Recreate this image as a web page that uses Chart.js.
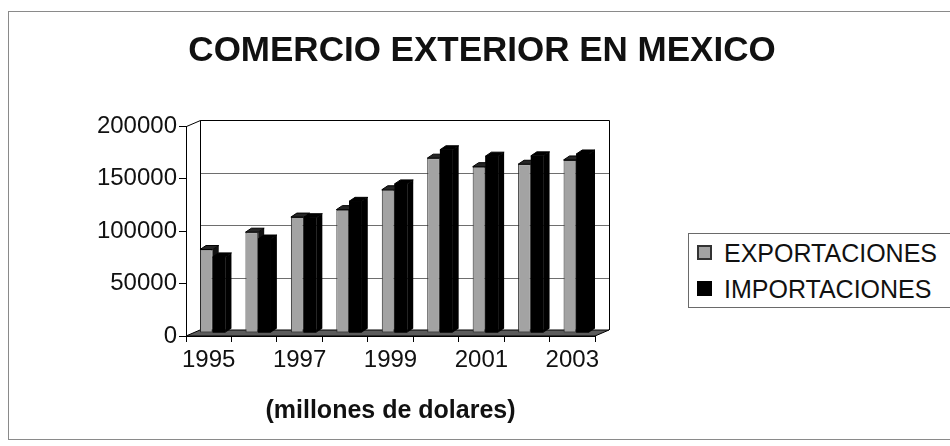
<!DOCTYPE html>
<html>
<head>
<meta charset="utf-8">
<script src="https://cdn.jsdelivr.net/npm/chart.js@4.4.1/dist/chart.umd.min.js"></script>
<style>
  html, body { margin: 0; padding: 0; background: #fff; }
  #wrap { position: relative; width: 950px; height: 446px; overflow: hidden; background: #fff; }
  #frame { position: absolute; left: 8px; top: 11px; width: 960px; height: 429px; border: 1px solid #8a8a8a; box-sizing: border-box; }
  #chartBox { position: absolute; left: 0; top: 0; width: 950px; height: 446px; }
  #title { position: absolute; left: 482px; top: 49px; transform: translate(-50%, -50%); white-space: nowrap;
           font-family: "Liberation Sans", Arial, sans-serif; font-weight: bold; font-size: 35px; line-height: 40px; color: #111; }
  #legend { position: absolute; left: 688px; top: 233px; width: 280px; height: 75px; border: 1px solid #6a6a6a; box-sizing: border-box;
            font-family: "Liberation Sans", Arial, sans-serif; font-size: 25px; color: #111; background: #fff; }
  .row { position: absolute; left: 8px; height: 30px; line-height: 30px; white-space: nowrap; }
  .sw { position: absolute; left: 0; top: 7px; width: 15px; height: 15px; box-sizing: border-box; }
  .lbl { position: absolute; left: 27px; top: 0; }
</style>
</head>
<body>
<div id="wrap">
  <div id="frame"></div>
  <div id="chartBox"><canvas id="c"></canvas></div>
  <div id="title"></div>
  <div id="legend"></div>
</div>
<script>
// ---- data ----
const years = ['1995', '1996', '1997', '1998', '1999', '2000', '2001', '2002', '2003'];
const exportaciones = [79500, 96000, 110400, 117500, 136400, 166500, 158400, 160700, 164800];
const importaciones = [72500, 89500, 109800, 125400, 142000, 174500, 168400, 168700, 170500];
const yTicks = [0, 50000, 100000, 150000, 200000];
const seriesNames = ['EXPORTACIONES', 'IMPORTACIONES'];
const chartTitle = 'COMERCIO EXTERIOR EN MEXICO';
const xTitle = '(millones de dolares)';

// ---- styling ----
const FONT = '"Liberation Sans", Arial, sans-serif';
const GRAY = '#a3a3a3';
const WALL = { dx: 14, dy: -6 };
const BAR_OFF = { dx: 4, dy: -3 };
const BAR_DEPTH = { dx: 6, dy: -4 };

document.getElementById('title').textContent = chartTitle;

// legend (HTML, real text)
const legendEl = document.getElementById('legend');
[[seriesNames[0], GRAY, '2px solid #333'], [seriesNames[1], '#000', '1px solid #000']].forEach((s, i) => {
  const row = document.createElement('div');
  row.className = 'row';
  row.style.top = (4 + i * 36) + 'px';
  const sw = document.createElement('div');
  sw.className = 'sw'; sw.style.background = s[1]; sw.style.border = s[2];
  const lb = document.createElement('div');
  lb.className = 'lbl'; lb.textContent = s[0];
  row.appendChild(sw); row.appendChild(lb);
  legendEl.appendChild(row);
});

function poly(ctx, pts) {
  ctx.beginPath();
  ctx.moveTo(pts[0][0], pts[0][1]);
  for (let i = 1; i < pts.length; i++) ctx.lineTo(pts[i][0], pts[i][1]);
  ctx.closePath();
}

const threeD = {
  id: 'threeD',
  beforeDatasetsDraw(chart) {
    const { ctx, chartArea: a, scales } = chart;
    const y = scales.y;
    const L = a.left + WALL.dx, R = a.right + WALL.dx, T = a.top + WALL.dy, B = a.bottom + WALL.dy;
    ctx.save();
    ctx.strokeStyle = '#6e6e6e';
    ctx.lineWidth = 1;
    yTicks.forEach(v => {
      if (v === 0) return;
      const py = Math.round(y.getPixelForValue(v) + WALL.dy) + 0.5;
      ctx.beginPath(); ctx.moveTo(L, py); ctx.lineTo(R, py); ctx.stroke();
    });
    ctx.strokeStyle = '#000';
    ctx.beginPath();
    ctx.moveTo(L + 0.5, B); ctx.lineTo(L + 0.5, T + 0.5); ctx.lineTo(R + 0.5, T + 0.5); ctx.lineTo(R + 0.5, B);
    ctx.stroke();
    ctx.beginPath(); ctx.moveTo(a.left + 0.5, a.top + 0.5); ctx.lineTo(L + 0.5, T + 0.5); ctx.stroke();
    ctx.fillStyle = '#5c5c5c';
    poly(ctx, [[a.left, a.bottom], [a.right, a.bottom], [R, B], [L, B]]);
    ctx.fill();
    ctx.stroke();
    ctx.restore();
    ctx.save();
    ctx.translate(BAR_OFF.dx, BAR_OFF.dy);
  },
  afterDatasetsDraw(chart) {
    const { ctx } = chart;
    const m0 = chart.getDatasetMeta(0).data, m1 = chart.getDatasetMeta(1).data;
    const faces = (bar, topCol, sideCol) => {
      const p = bar.getProps(['x', 'y', 'width', 'base'], true);
      const l = p.x - p.width / 2, r = p.x + p.width / 2, t = p.y, b = p.base;
      const dx = BAR_DEPTH.dx, dy = BAR_DEPTH.dy;
      ctx.fillStyle = sideCol;
      poly(ctx, [[r, t], [r + dx, t + dy], [r + dx, b + dy], [r, b]]);
      ctx.fill();
      ctx.fillStyle = topCol;
      poly(ctx, [[l, t], [r, t], [r + dx, t + dy], [l + dx, t + dy]]);
      ctx.fill();
      ctx.strokeStyle = '#000'; ctx.lineWidth = 1;
      ctx.stroke();
    };
    for (let i = 0; i < m0.length; i++) {
      faces(m0[i], '#262626', '#111');
      const p = m1[i].getProps(['x', 'y', 'width', 'base'], true);
      ctx.fillStyle = '#000';
      ctx.fillRect(p.x - p.width / 2, p.y, p.width, p.base - p.y);
      faces(m1[i], '#000', '#000');
    }
    ctx.restore();
  }
};

new Chart(document.getElementById('c'), {
  type: 'bar',
  data: {
    labels: years,
    datasets: [
      { label: seriesNames[0], data: exportaciones, backgroundColor: GRAY, borderColor: '#2a2a2a', borderWidth: 1, borderSkipped: false },
      { label: seriesNames[1], data: importaciones, backgroundColor: '#000', borderColor: '#000', borderWidth: 0 }
    ]
  },
  options: {
    responsive: true,
    maintainAspectRatio: false,
    animation: false,
    events: [],
    layout: { padding: { left: 8, right: 0, top: 126, bottom: 10 } },
    datasets: { bar: { categoryPercentage: 0.56, barPercentage: 1.0 } },
    plugins: {
      legend: { display: false },
      tooltip: { enabled: false },
      title: { display: false }
    },
    scales: {
      x: {
        type: 'category',
        grid: { display: true, drawOnChartArea: false, drawTicks: true, tickLength: 6, color: '#000', offset: true },
        border: { display: true, color: '#000', width: 1 },
        ticks: {
          autoSkip: false, maxRotation: 0, padding: 4, color: '#111',
          font: { family: FONT, size: 24 },
          callback: (v, i) => (i % 2 === 0 ? years[i] : '')
        },
        title: { display: true, text: xTitle, color: '#111', font: { family: FONT, size: 25, weight: 'bold', lineHeight: 1.2 }, padding: { top: 0, bottom: 10 } },
        afterFit: s => { s.height = 100; }
      },
      y: {
        type: 'linear', min: 0, max: 200000,
        grid: { display: true, drawOnChartArea: false, drawTicks: true, tickLength: 7, color: '#000' },
        border: { display: true, color: '#000', width: 1 },
        ticks: {
          stepSize: 50000, padding: 2, color: '#111',
          font: { family: FONT, size: 24 },
          callback: v => (yTicks.includes(v) ? String(v) : '')
        },
        afterFit: s => { s.width = 178; }
      },
      spacer: {
        type: 'linear', position: 'right', display: true,
        grid: { display: false }, border: { display: false }, ticks: { display: false },
        afterFit: s => { s.width = 355; }
      }
    }
  },
  plugins: [threeD]
});
</script>
</body>
</html>
